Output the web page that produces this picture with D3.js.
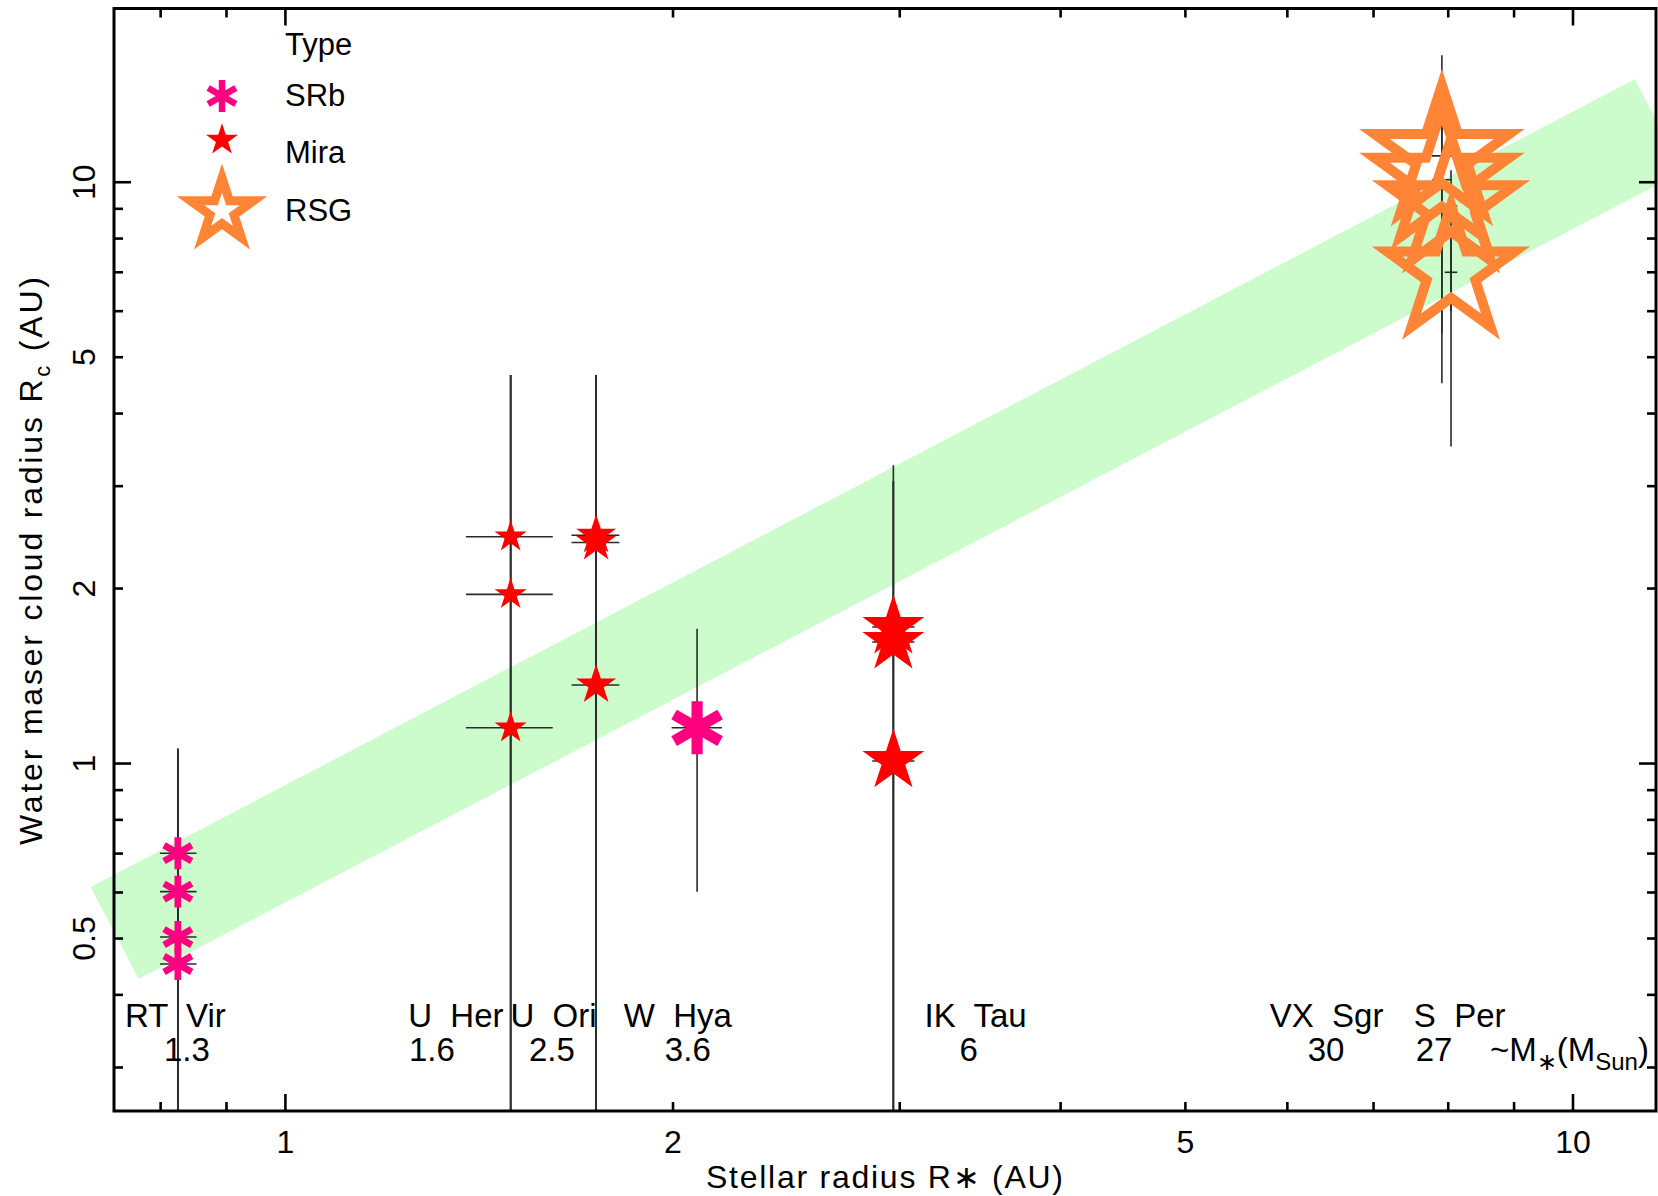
<!DOCTYPE html>
<html><head><meta charset="utf-8">
<script src="https://cdn.jsdelivr.net/npm/d3@7"></script>
<style>
body{margin:0;background:#fff;}
svg text{font-family:"Liberation Sans",Arial,sans-serif;fill:#000;white-space:pre;}
</style></head><body>
<svg id="c" width="1658" height="1196"></svg>
<script>
// ---------------- DATA ----------------
const legendTypes = ["SRb", "Mira", "RSG"];
const starNames  = ["RT Vir", "U Her", "U Ori", "W Hya", "IK Tau", "VX Sgr", "S Per"];
const starTypes  = ["SRb", "Mira", "Mira", "SRb", "Mira", "RSG", "RSG"];
const starMasses = [1.3, 1.6, 2.5, 3.6, 6, 30, 27];
const starMassLabels = ["1.3", "1.6", "2.5", "3.6", "6", "30", "27"];
const starRstar   = [0.825, 1.496, 1.743, 2.088, 2.966, 7.91, 8.04];
const starRstarLo = [0.799, 1.381, 1.668, 1.995, 2.856, 7.77, 7.95];
const starRstarHi = [0.853, 1.613, 1.817, 2.183, 3.08, 8.05, 8.13];
// water maser cloud radius measurements (one per epoch)
const obsStar = ["RT Vir","RT Vir","RT Vir","RT Vir","U Her","U Her","U Her","U Ori","U Ori","U Ori","W Hya","IK Tau","IK Tau","IK Tau","VX Sgr","VX Sgr","S Per","S Per"];
const obsRc   = [0.701, 0.602, 0.503, 0.452, 2.455, 1.954, 1.152, 2.47, 2.40, 1.365, 1.152, 1.717, 1.618, 1.01, 11.1, 10.1, 9.1, 7.0];
const obsRcLo = [0.2, 0.2, 0.2, 0.2, 0.2, 0.2, 0.2, 0.2, 0.2, 0.2, 0.602, 0.2, 0.2, 0.2, 4.51, 5.50, 3.51, 6.0];
const obsRcHi = [1.06, 1.06, 1.06, 1.06, 4.66, 4.66, 4.66, 4.66, 4.66, 4.66, 1.705, 3.26, 3.06, 3.06, 16.54, 12.39, 10.49, 8.0];
// empirical relation band (centre line end points)
const bandRstar = [0.737, 11.66];
const bandRc    = [0.511, 12.53];
// label anchors (in AU along the x axis)
const nameAt = [0.8214, 1.3564, 1.6151, 2.0172, 3.4356, 6.4356, 8.166];
const massAt = [0.8385, 1.2994, 1.6107, 2.0536, 3.393, 6.430, 7.799];
const massUnitAt = 8.62;
const xTickLabels = [1, 2, 5, 10];
const yTickLabels = [0.5, 1, 2, 5, 10];
const xMinor = [0.8, 0.9, 2, 3, 4, 5, 6, 7, 8, 9];
const xMajor = [1, 10];
const yMinor = [0.3, 0.4, 0.5, 0.6, 0.7, 0.8, 0.9, 2, 3, 4, 5, 6, 7, 8, 9];
const yMajor = [1, 10];

// ---------------- LAYOUT ----------------
const L = 114, R = 1656, T = 8.5, B = 1111;
const x = d3.scaleLog().domain([0.736, 11.6]).range([L, R]);
const y = d3.scaleLog().domain([0.2525, 19.9]).range([B, T]);
const colors = {SRb: "#ff0080", Mira: "#ff0000", RSG: "#ff8436"};
const starR = d3.scaleSqrt().domain([0, 30]).range([0, 13.3 * Math.sqrt(30)]);
const astR  = d3.scaleSqrt().domain([0, 30]).range([0, 14.0 * Math.sqrt(30)]);

const svg = d3.select("#c");

function starPath(r) {
  const pts = [];
  for (let i = 0; i < 10; i++) {
    const a = -Math.PI / 2 + i * Math.PI / 5;
    const rr = i % 2 === 0 ? r : r * 0.382;
    pts.push([rr * Math.cos(a), rr * Math.sin(a)]);
  }
  return d3.line()(pts) + "Z";
}
function asteriskPath(r) {
  let p = "";
  [90, 30, 150].forEach(deg => {
    const a = deg * Math.PI / 180;
    p += `M${-r * Math.cos(a)},${-r * Math.sin(a)}L${r * Math.cos(a)},${r * Math.sin(a)}`;
  });
  return p;
}
function drawMarker(g, type, mass, cx, cy) {
  if (type === "SRb") {
    const r = astR(mass);
    g.append("path").attr("transform", `translate(${cx},${cy})`).attr("d", asteriskPath(r))
      .attr("stroke", colors.SRb).attr("stroke-width", 0.42 * r).attr("fill", "none");
  } else if (type === "Mira") {
    g.append("path").attr("transform", `translate(${cx},${cy})`).attr("d", starPath(starR(mass)))
      .attr("fill", colors.Mira);
  } else {
    g.append("path").attr("transform", `translate(${cx},${cy})`).attr("d", starPath(starR(mass) - 2))
      .attr("fill", "none").attr("stroke", colors.RSG).attr("stroke-width", 10)
      .attr("stroke-linejoin", "miter").attr("stroke-miterlimit", 10);
  }
}

// band
svg.append("line")
  .attr("x1", x(bandRstar[0])).attr("y1", y(bandRc[0]))
  .attr("x2", x(bandRstar[1])).attr("y2", y(bandRc[1]))
  .attr("stroke", "#ccfccc").attr("stroke-width", 104).attr("stroke-linecap", "butt");

// clip
svg.append("clipPath").attr("id", "clip").append("rect")
  .attr("x", L).attr("y", T).attr("width", R - L).attr("height", B - T);

const obs = obsStar.map((s, i) => {
  const k = starNames.indexOf(s);
  return {k, rc: obsRc[i], lo: obsRcLo[i], hi: obsRcHi[i]};
});

// error bars
const gErr = svg.append("g").attr("clip-path", "url(#clip)").attr("stroke", "#2a2a2a").attr("stroke-width", 1.6);
obs.forEach(o => {
  const cx = x(starRstar[o.k]);
  gErr.append("line").attr("x1", cx).attr("x2", cx).attr("y1", y(o.lo)).attr("y2", y(o.hi));
  gErr.append("line").attr("x1", x(starRstarLo[o.k])).attr("x2", x(starRstarHi[o.k]))
    .attr("y1", y(o.rc)).attr("y2", y(o.rc));
});

// markers
const gMk = svg.append("g");
obs.forEach(o => {
  drawMarker(gMk, starTypes[o.k], starMasses[o.k], x(starRstar[o.k]), y(o.rc));
});

// frame
svg.append("rect").attr("x", L).attr("y", T).attr("width", R - L).attr("height", B - T)
  .attr("fill", "none").attr("stroke", "#000").attr("stroke-width", 3);

// ticks (all four sides, inward)
const gT = svg.append("g").attr("stroke", "#000").attr("stroke-width", 2.6);
function xt(vals, len) {
  vals.forEach(v => {
    gT.append("line").attr("x1", x(v)).attr("x2", x(v)).attr("y1", B).attr("y2", B - len);
    gT.append("line").attr("x1", x(v)).attr("x2", x(v)).attr("y1", T).attr("y2", T + len);
  });
}
function yt(vals, len) {
  vals.forEach(v => {
    gT.append("line").attr("y1", y(v)).attr("y2", y(v)).attr("x1", L).attr("x2", L + len);
    gT.append("line").attr("y1", y(v)).attr("y2", y(v)).attr("x1", R).attr("x2", R - len);
  });
}
xt(xMinor, 9); xt(xMajor, 17); yt(yMinor, 9); yt(yMajor, 17);

// tick labels
const fs = 32;
xTickLabels.forEach(v => {
  svg.append("text").attr("x", x(v)).attr("y", 1153).attr("text-anchor", "middle")
    .attr("font-size", fs).text(v);
});
yTickLabels.forEach(v => {
  svg.append("text").attr("transform", `translate(95,${y(v)}) rotate(-90)`)
    .attr("text-anchor", "middle").attr("font-size", fs).text(v);
});

// axis titles
svg.append("text").attr("x", 884.5).attr("y", 1188).attr("text-anchor", "middle")
  .attr("font-size", fs).attr("textLength", 357).attr("lengthAdjust", "spacing")
  .text("Stellar radius R\u2217 (AU)");
const yt1 = svg.append("text").attr("transform", "translate(42,561) rotate(-90)")
  .attr("text-anchor", "middle").attr("font-size", fs)
  .attr("textLength", 568).attr("lengthAdjust", "spacing");
yt1.append("tspan").text("Water maser cloud radius R");
yt1.append("tspan").attr("font-size", 22).attr("dy", 8).text("c");
yt1.append("tspan").attr("dy", -8).text(" (AU)");

// star names and masses
starNames.forEach((n, i) => {
  svg.append("text").attr("x", x(nameAt[i])).attr("y", 1027).attr("text-anchor", "middle")
    .attr("font-size", 33).text(n.replace(" ", "  "));
  svg.append("text").attr("x", x(massAt[i])).attr("y", 1061).attr("text-anchor", "middle")
    .attr("font-size", 33).text(starMassLabels[i]);
});
const mu = svg.append("text").attr("x", x(massUnitAt)).attr("y", 1061).attr("font-size", 33);
mu.append("tspan").text("~M");
mu.append("tspan").attr("font-size", 24).attr("dy", 9).text("\u2217");
mu.append("tspan").attr("dy", -9).text("(M");
mu.append("tspan").attr("font-size", 24).attr("dy", 9).text("Sun");
mu.append("tspan").attr("dy", -9).text(")");

// legend
svg.append("text").attr("x", 285).attr("y", 55).attr("font-size", 31).text("Type");
const legY = {SRb: 96, Mira: 140, RSG: 211};
const legTextY = {SRb: 106, Mira: 163, RSG: 221};
legendTypes.forEach(t => {
  const cy = legY[t];
  if (t === "SRb") {
    svg.append("path").attr("transform", `translate(222,${cy})`).attr("d", asteriskPath(16))
      .attr("stroke", colors.SRb).attr("stroke-width", 6.5).attr("fill", "none");
  } else if (t === "Mira") {
    svg.append("path").attr("transform", `translate(222,${cy})`).attr("d", starPath(16.8))
      .attr("fill", colors.Mira);
  } else {
    svg.append("path").attr("transform", `translate(222,${cy})`).attr("d", starPath(33))
      .attr("fill", "none").attr("stroke", colors.RSG).attr("stroke-width", 9)
      .attr("stroke-miterlimit", 10);
  }
  svg.append("text").attr("x", 285).attr("y", legTextY[t]).attr("font-size", 31).text(t);
});
</script>
</body></html>
